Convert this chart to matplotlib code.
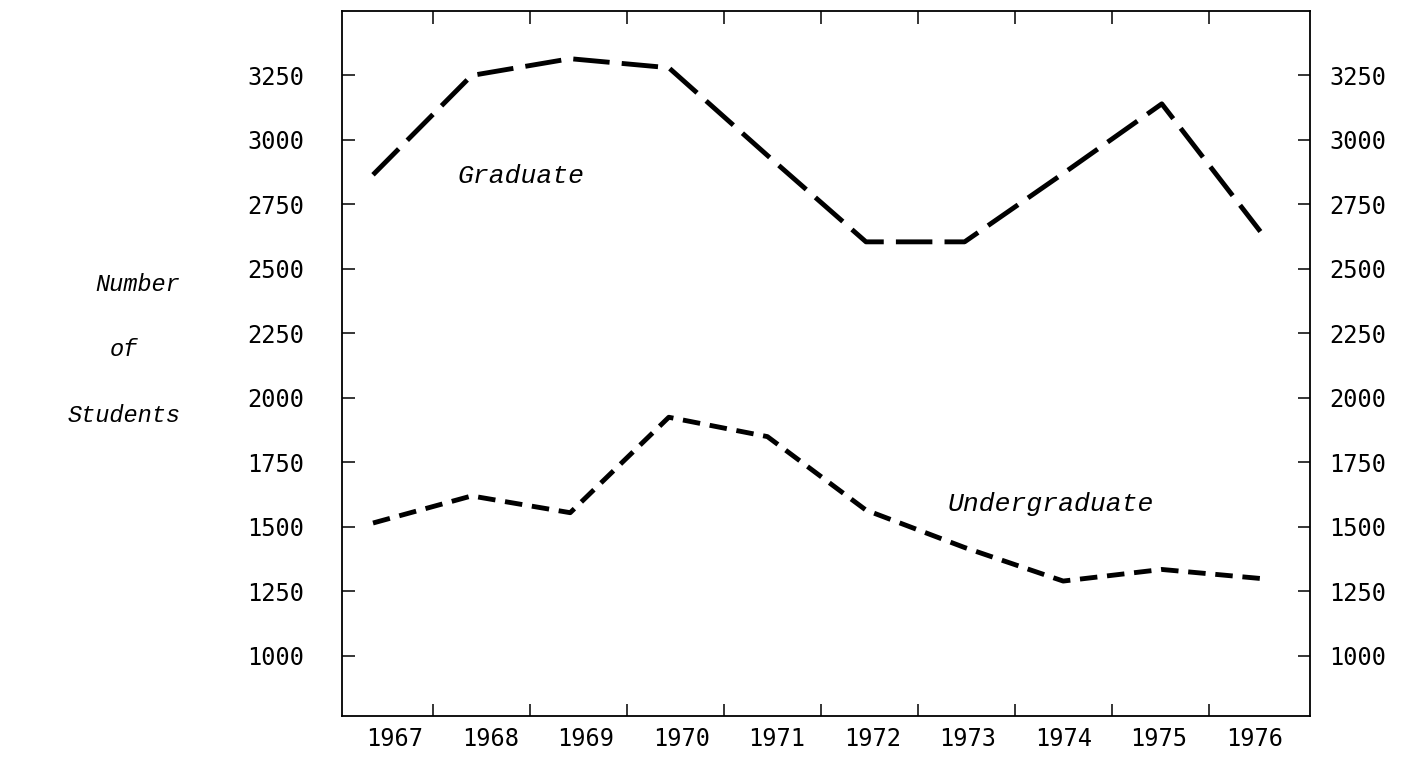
import numpy as np
import matplotlib
matplotlib.use('Agg')
import matplotlib.pyplot as plt
from matplotlib.transforms import ScaledTranslation

# valores
years = [1967, 1968, 1969, 1970, 1971, 1972, 1973, 1974, 1975, 1976]
graduate = [2865, 3250, 3315, 3280, 2940, 2605, 2605, 2870, 3140, 2645]
undergraduate = [1515, 1620, 1555, 1925, 1850, 1565, 1420, 1290, 1335, 1300]
yticks = [1000, 1250, 1500, 1750, 2000, 2250, 2500, 2750, 3000, 3250]

numFont = 'DejaVu Sans Mono'
typeFont = 'Liberation Mono'

fig = plt.figure(figsize=(14.03, 7.57), dpi=100)
ax = fig.add_axes([0.2438, 0.0542, 0.6899, 0.9313])

ax.plot(years, graduate, color='black', lw=3.5, linestyle=(0, (7.5, 2.5)))
ax.plot(years, undergraduate, color='black', lw=3.5, linestyle=(0, (3.6, 2.0)))

ax.set_xlim(1966.686, 1976.503)
ax.set_ylim(767, 3500)

# rotulos dos anos ficam um pouco deslocados dos pontos (desenho a mao)
i = np.arange(len(years))
labelPos = np.array(years) + 0.223 - 0.0314 * i
ax.set_xticks(labelPos)
ax.set_xticklabels([str(y) for y in years], fontfamily=numFont, fontsize=17)
ax.set_xticks(years[0] + 0.61 + 0.983 * np.arange(9), minor=True)
ax.tick_params(axis='x', which='major', length=0, pad=8)
ax.tick_params(axis='x', which='minor', direction='in', length=9, width=1.1,
               top=True, bottom=True)

ax.set_yticks(yticks)
ax.set_yticklabels([str(v) for v in yticks], fontfamily=numFont, fontsize=17)
ax.tick_params(axis='y', which='major', direction='in', length=9, width=1.1,
               left=True, right=True, labelleft=True, labelright=True, pad=27)

# lado direito com espaco menor
shift = ScaledTranslation(-13 / 72, 0, fig.dpi_scale_trans)
for tick in ax.yaxis.get_major_ticks():
    tick.label2.set_fontfamily(numFont)
    tick.label2.set_fontsize(17)
    tick.label2.set_transform(tick.label2.get_transform() + shift)

for s in ax.spines.values():
    s.set_linewidth(1.3)

ax.text(1967.86, 2860, 'Graduate', fontfamily=typeFont, fontstyle='italic',
        fontsize=19, va='center', ha='left')
ax.text(1972.83, 1590, 'Undergraduate', fontfamily=typeFont, fontstyle='italic',
        fontsize=19, va='center', ha='left')

fig.text(95 / 1403, 1 - 285 / 757, 'Number', fontfamily=typeFont, fontstyle='italic',
         fontsize=17, va='center', ha='left')
fig.text(110 / 1403, 1 - 350 / 757, 'of', fontfamily=typeFont, fontstyle='italic',
         fontsize=17, va='center', ha='left')
fig.text(68 / 1403, 1 - 415 / 757, 'Students', fontfamily=typeFont, fontstyle='italic',
         fontsize=17, va='center', ha='left')

fig.savefig('out.png', dpi=100)
